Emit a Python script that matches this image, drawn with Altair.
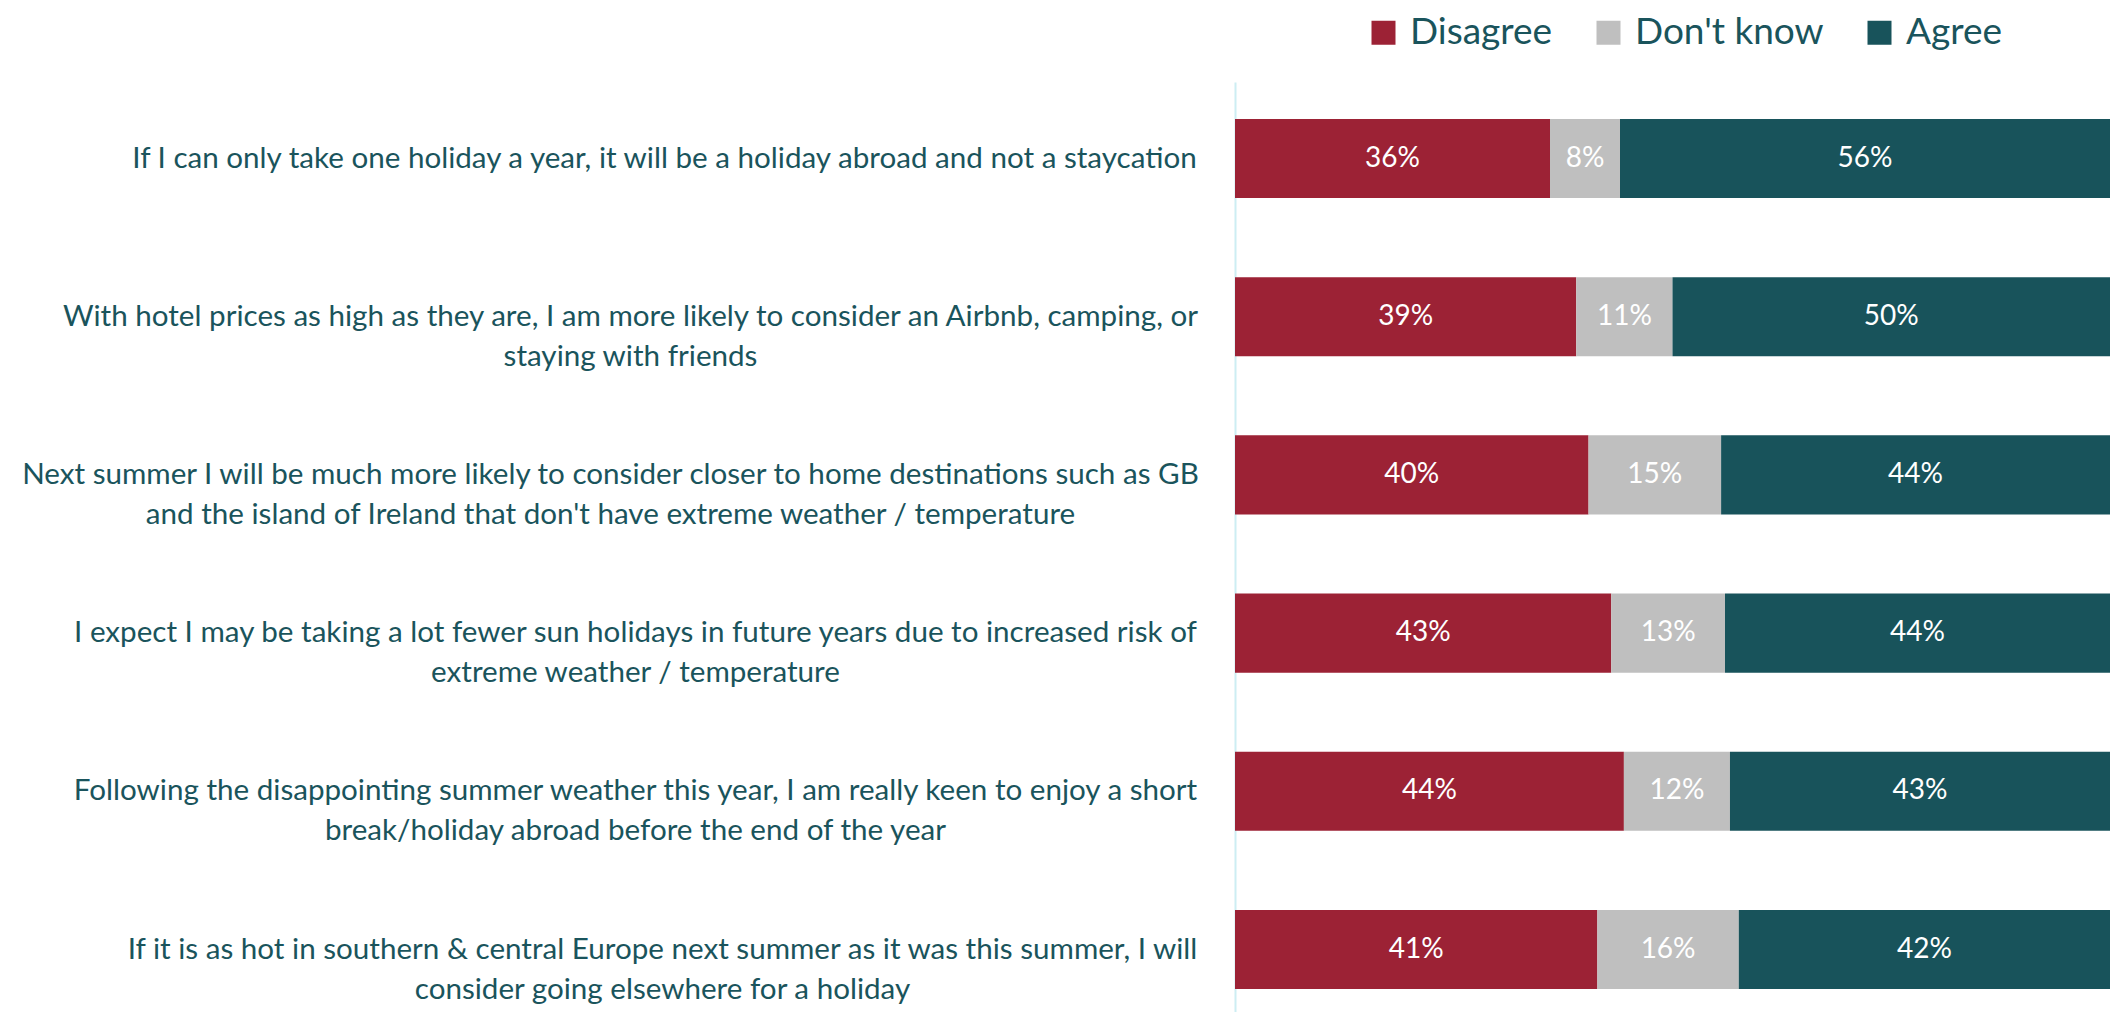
import altair as alt
import pandas as pd

questions = [
    "If I can only take one holiday a year, it will be a holiday abroad and not a staycation",
    "With hotel prices as high as they are, I am more likely to consider an Airbnb, camping, or|staying with friends",
    "Next summer I will be much more likely to consider closer to home destinations such as GB|and the island of Ireland that don't have extreme weather / temperature",
    "I expect I may be taking a lot fewer sun holidays in future years due to increased risk of|extreme weather / temperature",
    "Following the disappointing summer weather this year, I am really keen to enjoy a short|break/holiday abroad before the end of the year",
    "If it is as hot in southern & central Europe next summer as it was this summer, I will|consider going elsewhere for a holiday",
]
responses = ["Disagree", "Don't know", "Agree"]
disagree = [36, 39, 40, 43, 44, 41]
dont_know = [8, 11, 15, 13, 12, 16]
agree = [56, 50, 44, 44, 43, 42]
colors = ["#9c2235", "#bfbfbf", "#18535b"]
TEXT = "#1a545c"
FONT = "Lato"

# label block centring: padding from axis to the centre of each label block
prefixes = ["If I can", "With hotel", "Next summer", "I expect", "Following", "If it is"]
pads = [571, 605, 625, 600, 600, 573]

rows = []
for i, q in enumerate(questions):
    for j, (r, vals) in enumerate(zip(responses, [disagree, dont_know, agree])):
        rows.append({"question": q, "response": r, "order": j, "value": vals[i]})
df = pd.DataFrame(rows)

pad_cond = {
    "condition": [
        {"test": f"indexof(datum.value, '{p}') === 0", "value": v}
        for p, v in zip(prefixes, pads)
    ],
    "value": 600,
}

base = alt.Chart(df).transform_stack(
    stack="value",
    groupby=["question"],
    as_=["v0", "v1"],
    offset="normalize",
    sort=[alt.SortField("order", "ascending")],
).transform_calculate(mid="(datum.v0 + datum.v1) / 2", lab="datum.value + '%'")

yenc = alt.Y(
    "question:N",
    sort=questions,
    title=None,
    scale=alt.Scale(paddingInner=0.5, paddingOuter=0.1894, align=0.617),
    axis=alt.Axis(
        labelExpr="split(datum.label, '|')",
        labelFont=FONT,
        labelFontSize=29.6,
        labelColor=TEXT,
        labelLineHeight=40,
        labelPadding=pad_cond,
        labelLimit=0,
        labelAlign="center",
        labelBaseline="middle",
        ticks=False,
        domainColor="#cdeef3",
        domainWidth=2,
        grid=False,
    ),
)

bars = base.mark_bar().encode(
    y=yenc,
    x=alt.X("v0:Q", axis=None, scale=alt.Scale(domain=[0, 1])),
    x2="v1:Q",
    color=alt.Color(
        "response:N",
        scale=alt.Scale(domain=responses, range=colors),
        legend=alt.Legend(
            title=None,
            orient="none",
            direction="horizontal",
            legendX=130,
            legendY=-68,
            symbolType="square",
            symbolSize=576,
            symbolStrokeWidth=0,
            symbolOpacity=1,
            labelFont=FONT,
            labelFontSize=37,
            labelColor=TEXT,
            labelOffset=8,
            labelLimit=0,
            columnPadding=37,
            padding=0,
        ),
    ),
)

texts = base.mark_text(
    color="white", font=FONT, fontSize=28, align="center", baseline="middle"
).encode(
    y=alt.Y("question:N", sort=questions),
    x=alt.X("mid:Q"),
    text="lab:N",
)

chart = (
    alt.layer(bars, texts)
    .properties(
        width=875,
        height=930,
        autosize=alt.AutoSizeParams(type="none"),
        padding={"left": 1227, "top": 74, "right": 0, "bottom": 0},
    )
    .configure_view(stroke=None)
)

chart.save("out.html", embed_options={"renderer": "svg", "actions": False})
